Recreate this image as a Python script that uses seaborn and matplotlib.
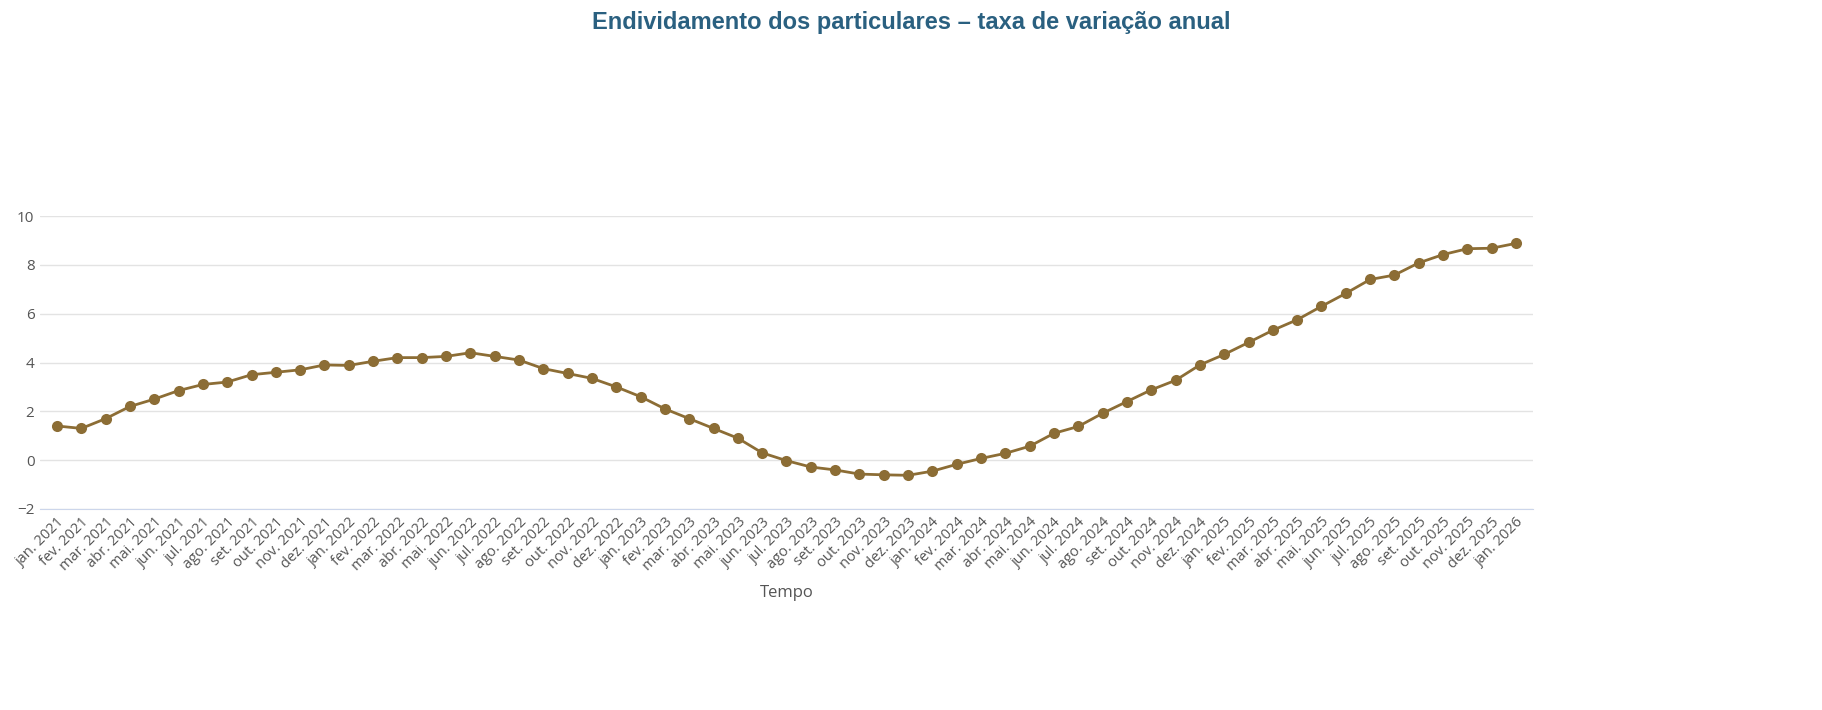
import matplotlib
matplotlib.use("Agg")
import matplotlib.pyplot as plt
import seaborn as sns
import pandas as pd

months = ["jan.", "fev.", "mar.", "abr.", "mai.", "jun.", "jul.", "ago.", "set.", "out.", "nov.", "dez."]
periods = [f"{m} {y}" for y in range(2021, 2026) for m in months] + ["jan. 2026"]

values = [1.4, 1.3, 1.7, 2.2, 2.5, 2.85, 3.1, 3.2, 3.5, 3.6, 3.7, 3.9,
          3.88, 4.05, 4.2, 4.2, 4.25, 4.4, 4.25, 4.1, 3.75, 3.55, 3.35, 3.0,
          2.6, 2.1, 1.7, 1.3, 0.9, 0.3, -0.02, -0.28, -0.4, -0.57, -0.6, -0.62,
          -0.45, -0.17, 0.07, 0.28, 0.57, 1.1, 1.38, 1.92, 2.4, 2.88, 3.27, 3.9,
          4.33, 4.82, 5.32, 5.75, 6.3, 6.83, 7.4, 7.58, 8.08, 8.42, 8.66, 8.68,
          8.88]

df = pd.DataFrame({"Tempo": periods, "valor": values})
df["pos"] = range(len(df))

sns.set_style("white")
plt.rcParams["font.family"] = ["Open Sans", "DejaVu Sans"]

fig = plt.figure(figsize=(18.22, 7.10), dpi=100)
ax = fig.add_axes([40 / 1822, 1 - 509 / 710, (1533 - 40) / 1822, (509 - 216) / 710])

sns.lineplot(data=df, x="pos", y="valor", ax=ax, color="#8c6d35", linewidth=2,
             marker="o", markersize=8, markeredgewidth=0)

ax.set_ylim(-2, 10)
ax.set_xlim(-0.7, len(df) - 0.3)
ax.set_yticks(range(-2, 11, 2))
ax.set_yticklabels(["\u22122", "0", "2", "4", "6", "8", "10"], color="#555555", fontsize=11)
ax.set_xticks(df["pos"])
ax.set_xticklabels(df["Tempo"], rotation=45, ha="right", rotation_mode="anchor",
                   fontsize=10.5, color="#555555")
ax.grid(axis="y", color="#e3e3e3", linewidth=1)
for s in ["top", "right", "left"]:
    ax.spines[s].set_visible(False)
ax.spines["bottom"].set_color("#ccd6eb")
ax.tick_params(axis="both", length=0, pad=4)
ax.set_ylabel("")
ax.set_xlabel("Tempo", fontsize=12, color="#555555", labelpad=8)

fig.text(0.5, 1 - 22 / 710, "Endividamento dos particulares \u2013 taxa de variação anual",
         ha="center", va="center", fontsize=17, fontweight="bold", color="#2a6080",
         family=["Liberation Sans", "DejaVu Sans"])

fig.savefig("out.png", dpi=100)
